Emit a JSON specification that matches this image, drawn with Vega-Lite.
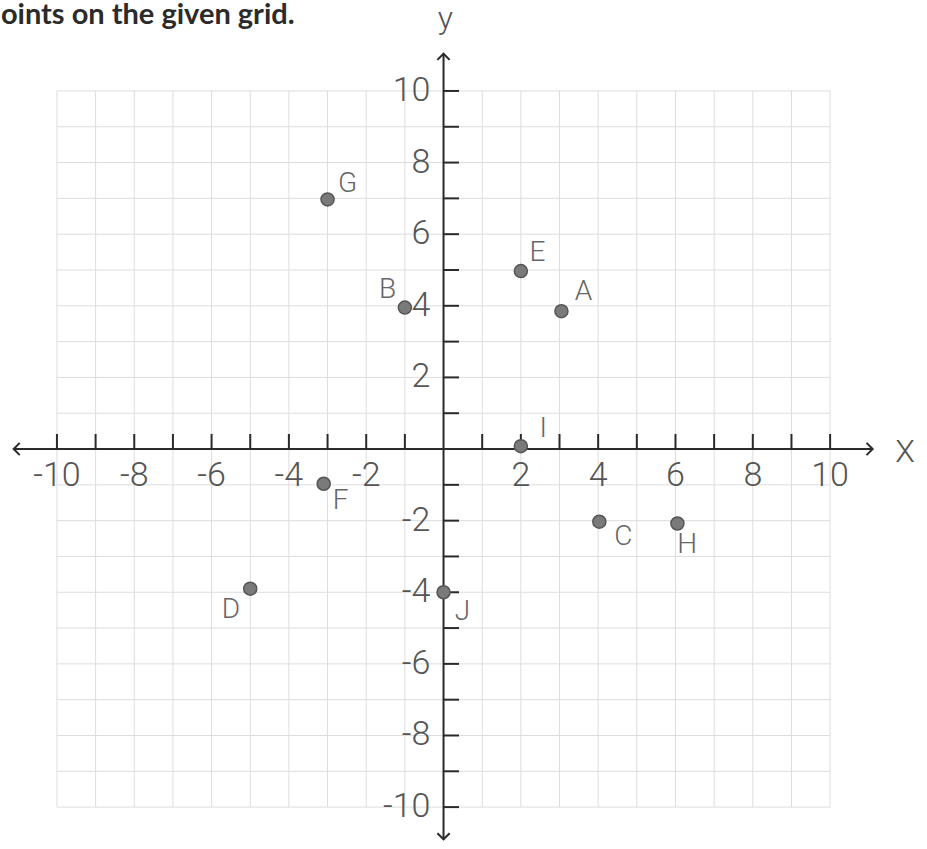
{
  "$schema": "https://vega.github.io/schema/vega-lite/v6.json",
  "width": 927,
  "height": 849,
  "autosize": {"type": "fit", "contains": "padding"},
  "padding": 0,
  "background": "white",
  "config": {"view": {"stroke": null}},
  "datasets": {
    "grid": [
      {"v": -10, "lab": "-10"}, {"v": -9, "lab": ""}, {"v": -8, "lab": "-8"}, {"v": -7, "lab": ""},
      {"v": -6, "lab": "-6"}, {"v": -5, "lab": ""}, {"v": -4, "lab": "-4"}, {"v": -3, "lab": ""},
      {"v": -2, "lab": "-2"}, {"v": -1, "lab": ""}, {"v": 0, "lab": ""}, {"v": 1, "lab": ""},
      {"v": 2, "lab": "2"}, {"v": 3, "lab": ""}, {"v": 4, "lab": "4"}, {"v": 5, "lab": ""},
      {"v": 6, "lab": "6"}, {"v": 7, "lab": ""}, {"v": 8, "lab": "8"}, {"v": 9, "lab": ""},
      {"v": 10, "lab": "10"}
    ],
    "points": [
      {"name": "A", "x": 3.05, "y": 3.85, "lx": 3.62, "ly": 4.39},
      {"name": "B", "x": -1.0, "y": 3.95, "lx": -1.45, "ly": 4.44},
      {"name": "C", "x": 4.03, "y": -2.03, "lx": 4.65, "ly": -2.47},
      {"name": "D", "x": -5.0, "y": -3.9, "lx": -5.5, "ly": -4.5},
      {"name": "E", "x": 2.0, "y": 4.97, "lx": 2.43, "ly": 5.47},
      {"name": "F", "x": -3.1, "y": -0.97, "lx": -2.66, "ly": -1.44},
      {"name": "G", "x": -3.0, "y": 6.97, "lx": -2.48, "ly": 7.39},
      {"name": "H", "x": 6.05, "y": -2.08, "lx": 6.3, "ly": -2.67},
      {"name": "I", "x": 2.0, "y": 0.08, "lx": 2.58, "ly": 0.56},
      {"name": "J", "x": 0.0, "y": -4.0, "lx": 0.49, "ly": -4.56}
    ]
  },
  "layer": [
    {
      "data": {"name": "grid"},
      "mark": {"type": "rule", "color": "#dddddd", "strokeWidth": 1},
      "encoding": {
        "x": {"field": "v", "type": "quantitative", "axis": null, "scale": {"domain": [-11.447, 12.506], "nice": false, "zero": false}},
        "y": {"datum": -10, "type": "quantitative", "axis": null, "scale": {"domain": [-11.17, 12.54], "nice": false, "zero": false}},
        "y2": {"datum": 10}
      }
    },
    {
      "data": {"name": "grid"},
      "mark": {"type": "rule", "color": "#dddddd", "strokeWidth": 1},
      "encoding": {
        "y": {"field": "v", "type": "quantitative", "axis": null, "scale": {"domain": [-11.17, 12.54], "nice": false, "zero": false}},
        "x": {"datum": -10, "type": "quantitative", "axis": null, "scale": {"domain": [-11.447, 12.506], "nice": false, "zero": false}},
        "x2": {"datum": 10}
      }
    },
    {
      "data": {"values": [{"axis": "x"}]},
      "mark": {"type": "rule", "color": "#2a2a2a", "strokeWidth": 2},
      "encoding": {
        "x": {"datum": -11.1, "type": "quantitative", "axis": null, "scale": {"domain": [-11.447, 12.506], "nice": false, "zero": false}},
        "x2": {"datum": 11.08},
        "y": {"datum": 0, "type": "quantitative", "axis": null, "scale": {"domain": [-11.17, 12.54], "nice": false, "zero": false}}
      }
    },
    {
      "data": {"values": [{"axis": "y"}]},
      "mark": {"type": "rule", "color": "#2a2a2a", "strokeWidth": 2},
      "encoding": {
        "x": {"datum": 0, "type": "quantitative", "axis": null, "scale": {"domain": [-11.447, 12.506], "nice": false, "zero": false}},
        "y": {"datum": -10.9, "type": "quantitative", "axis": null, "scale": {"domain": [-11.17, 12.54], "nice": false, "zero": false}},
        "y2": {"datum": 11.03}
      }
    },
    {
      "data": {"name": "grid"},
      "transform": [{"filter": "datum.v != 0"}],
      "mark": {"type": "rule", "color": "#2a2a2a", "strokeWidth": 2},
      "encoding": {
        "x": {"field": "v", "type": "quantitative", "axis": null, "scale": {"domain": [-11.447, 12.506], "nice": false, "zero": false}},
        "y": {"datum": 0, "type": "quantitative", "axis": null, "scale": {"domain": [-11.17, 12.54], "nice": false, "zero": false}},
        "y2": {"datum": 0.42}
      }
    },
    {
      "data": {"name": "grid"},
      "transform": [{"filter": "datum.v != 0"}],
      "mark": {"type": "rule", "color": "#2a2a2a", "strokeWidth": 2},
      "encoding": {
        "y": {"field": "v", "type": "quantitative", "axis": null, "scale": {"domain": [-11.17, 12.54], "nice": false, "zero": false}},
        "x": {"datum": 0, "type": "quantitative", "axis": null, "scale": {"domain": [-11.447, 12.506], "nice": false, "zero": false}},
        "x2": {"datum": 0.4}
      }
    },
    {
      "data": {"values": [{"dir": "right"}]},
      "mark": {"type": "point", "shape": "M-1,-1L0,0L-1,1", "filled": false, "stroke": "#2a2a2a", "strokeWidth": 2, "size": 150, "opacity": 1, "angle": 0},
      "encoding": {
        "x": {"datum": 11.1, "type": "quantitative", "axis": null, "scale": {"domain": [-11.447, 12.506], "nice": false, "zero": false}},
        "y": {"datum": 0, "type": "quantitative", "axis": null, "scale": {"domain": [-11.17, 12.54], "nice": false, "zero": false}}
      }
    },
    {
      "data": {"values": [{"dir": "left"}]},
      "mark": {"type": "point", "shape": "M1,-1L0,0L1,1", "filled": false, "stroke": "#2a2a2a", "strokeWidth": 2, "size": 150, "opacity": 1, "angle": 0},
      "encoding": {
        "x": {"datum": -11.12, "type": "quantitative", "axis": null, "scale": {"domain": [-11.447, 12.506], "nice": false, "zero": false}},
        "y": {"datum": 0, "type": "quantitative", "axis": null, "scale": {"domain": [-11.17, 12.54], "nice": false, "zero": false}}
      }
    },
    {
      "data": {"values": [{"dir": "up"}]},
      "mark": {"type": "point", "shape": "M-1,1L0,0L1,1", "filled": false, "stroke": "#2a2a2a", "strokeWidth": 2, "size": 150, "opacity": 1, "angle": 0},
      "encoding": {
        "x": {"datum": 0, "type": "quantitative", "axis": null, "scale": {"domain": [-11.447, 12.506], "nice": false, "zero": false}},
        "y": {"datum": 11.04, "type": "quantitative", "axis": null, "scale": {"domain": [-11.17, 12.54], "nice": false, "zero": false}}
      }
    },
    {
      "data": {"values": [{"dir": "down"}]},
      "mark": {"type": "point", "shape": "M-1,-1L0,0L1,-1", "filled": false, "stroke": "#2a2a2a", "strokeWidth": 2, "size": 150, "opacity": 1, "angle": 0},
      "encoding": {
        "x": {"datum": 0, "type": "quantitative", "axis": null, "scale": {"domain": [-11.447, 12.506], "nice": false, "zero": false}},
        "y": {"datum": -10.9, "type": "quantitative", "axis": null, "scale": {"domain": [-11.17, 12.54], "nice": false, "zero": false}}
      }
    },
    {
      "data": {"name": "grid"},
      "transform": [{"filter": "datum.lab != ''"}],
      "mark": {"type": "text", "font": "Roboto", "fontWeight": 300, "fontSize": 34, "color": "#555555", "align": "center", "baseline": "middle"},
      "encoding": {
        "x": {"field": "v", "type": "quantitative", "axis": null, "scale": {"domain": [-11.447, 12.506], "nice": false, "zero": false}},
        "y": {"datum": -0.75, "type": "quantitative", "axis": null, "scale": {"domain": [-11.17, 12.54], "nice": false, "zero": false}},
        "text": {"field": "lab"}
      }
    },
    {
      "data": {"name": "grid"},
      "transform": [{"filter": "datum.lab != ''"}],
      "mark": {"type": "text", "font": "Roboto", "fontWeight": 300, "fontSize": 34, "color": "#555555", "align": "right", "baseline": "middle"},
      "encoding": {
        "y": {"field": "v", "type": "quantitative", "axis": null, "scale": {"domain": [-11.17, 12.54], "nice": false, "zero": false}},
        "x": {"datum": -0.34, "type": "quantitative", "axis": null, "scale": {"domain": [-11.447, 12.506], "nice": false, "zero": false}},
        "text": {"field": "lab"}
      }
    },
    {
      "data": {"values": [
        {"t": "X", "x": 11.94, "y": -0.08},
        {"t": "y", "x": 0.05, "y": 12.0}
      ]},
      "mark": {"type": "text", "font": "Roboto", "fontWeight": 300, "fontSize": 32, "color": "#555555", "align": "center", "baseline": "middle"},
      "encoding": {
        "x": {"field": "x", "type": "quantitative", "axis": null, "scale": {"domain": [-11.447, 12.506], "nice": false, "zero": false}},
        "y": {"field": "y", "type": "quantitative", "axis": null, "scale": {"domain": [-11.17, 12.54], "nice": false, "zero": false}},
        "text": {"field": "t"}
      }
    },
    {
      "data": {"name": "points"},
      "mark": {"type": "point", "filled": true, "shape": "circle", "size": 170, "fill": "#7a7a7a", "stroke": "#555555", "strokeWidth": 1.5, "opacity": 1},
      "encoding": {
        "x": {"field": "x", "type": "quantitative", "axis": null, "scale": {"domain": [-11.447, 12.506], "nice": false, "zero": false}},
        "y": {"field": "y", "type": "quantitative", "axis": null, "scale": {"domain": [-11.17, 12.54], "nice": false, "zero": false}}
      }
    },
    {
      "data": {"name": "points"},
      "mark": {"type": "text", "font": "Roboto", "fontWeight": 300, "fontSize": 28, "color": "#666666", "align": "center", "baseline": "middle"},
      "encoding": {
        "x": {"field": "lx", "type": "quantitative", "axis": null, "scale": {"domain": [-11.447, 12.506], "nice": false, "zero": false}},
        "y": {"field": "ly", "type": "quantitative", "axis": null, "scale": {"domain": [-11.17, 12.54], "nice": false, "zero": false}},
        "text": {"field": "name"}
      }
    },
    {
      "data": {"values": [{"t": "oints on the given grid.", "x": -11.45, "y": 11.88}]},
      "mark": {"type": "text", "font": "Lato", "fontWeight": "bold", "fontSize": 29, "color": "#2b2b2b", "align": "left", "baseline": "alphabetic"},
      "encoding": {
        "x": {"field": "x", "type": "quantitative", "axis": null, "scale": {"domain": [-11.447, 12.506], "nice": false, "zero": false}},
        "y": {"field": "y", "type": "quantitative", "axis": null, "scale": {"domain": [-11.17, 12.54], "nice": false, "zero": false}},
        "text": {"field": "t"}
      }
    }
  ]
}
